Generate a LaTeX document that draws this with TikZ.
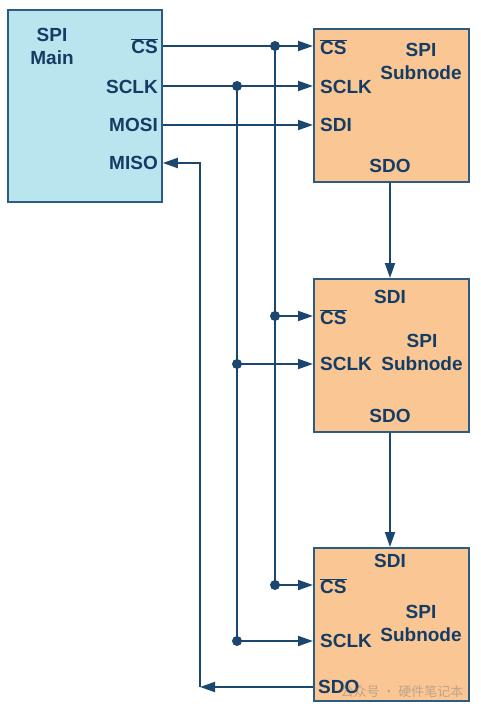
\documentclass[tikz,border=0pt]{standalone}
\usepackage{fontspec}
\setmainfont{Liberation Sans}
\newfontfamily\cjk{Noto Sans CJK SC}
\usetikzlibrary{arrows.meta,calc}
\definecolor{wire}{HTML}{1B4670}
\definecolor{txt}{HTML}{143C64}
\definecolor{edge}{HTML}{2D5C82}
\definecolor{mainfill}{HTML}{B9E6EE}
\definecolor{subfill}{HTML}{FAC794}
\tikzset{
  mainbox/.style={draw=edge,line width=1.8pt,fill=mainfill,minimum width=154pt,minimum height=192pt,inner sep=0pt,anchor=north west},
  subbox/.style={draw=edge,line width=1.8pt,fill=subfill,minimum width=155pt,minimum height=153pt,inner sep=0pt,anchor=north west},
  lbl/.style={text=txt,font=\fontsize{19}{23}\selectfont\bfseries,inner sep=0pt},
  wireline/.style={draw=wire,line width=1.9pt},
  arr/.style={wireline,-{Triangle[length=15pt,width=10pt]}},
  dot/.style={circle,fill=wire,inner sep=0pt,minimum size=10pt}
}
\newcommand{\csbar}{$\overline{\hbox{CS}}$}
\begin{document}
\begin{tikzpicture}[x=1pt,y=-1pt]
\useasboundingbox (0,0) rectangle (481,711);
% boxes
\node[mainbox] (main) at (7,9) {};
\node[subbox] (s1) at (313,28) {};
\node[subbox] (s2) at (313,278) {};
\node[subbox] (s3) at (313,547) {};
% main labels
\node[lbl,align=center] at (52,46) {SPI\\Main};
\node[lbl,anchor=east] (mcs) at (158,46) {\csbar};
\node[lbl,anchor=east] (msclk) at (158,87) {SCLK};
\node[lbl,anchor=east] (mmosi) at (158,125) {MOSI};
\node[lbl,anchor=east] (mmiso) at (158,163) {MISO};
% sub 1 labels
\node[lbl,anchor=west] at (320,47) {\csbar};
\node[lbl,anchor=west] at (320,87) {SCLK};
\node[lbl,anchor=west] at (320,125) {SDI};
\node[lbl,align=center] at (421,61) {SPI\\Subnode};
\node[lbl] at (390,166) {SDO};
% sub 2 labels
\node[lbl] at (390,297) {SDI};
\node[lbl,anchor=west] at (320,317) {\csbar};
\node[lbl,anchor=west] at (320,364) {SCLK};
\node[lbl,align=center] at (422,352) {SPI\\Subnode};
\node[lbl] at (390,416) {SDO};
% sub 3 labels
\node[lbl] at (390,561) {SDI};
\node[lbl,anchor=west] at (320,586) {\csbar};
\node[lbl,anchor=west] at (320,641) {SCLK};
\node[lbl,align=center] at (421,623) {SPI\\Subnode};
\node[lbl,anchor=west] at (318,687) {SDO};
% junctions
\coordinate (cs0) at (275,46);
\coordinate (cs1) at (275,316);
\coordinate (cs2) at (275,585);
\coordinate (ck0) at (237,86);
\coordinate (ck1) at (237,364);
\coordinate (ck2) at (237,641);
\coordinate (mi) at (200,687);
% wires main -> sub1
\draw[arr] (main.east |- cs0) -- (s1.west |- cs0);
\draw[arr] (main.east |- ck0) -- (s1.west |- ck0);
\draw[arr] (main.east |- 0,125) -- (s1.west |- 0,125);
% buses
\draw[wireline] (cs0) -- (cs2);
\draw[wireline] (ck0) -- (ck2);
\draw[arr] (cs1) -- (s2.west |- cs1);
\draw[arr] (ck1) -- (s2.west |- ck1);
\draw[arr] (cs2) -- (s3.west |- cs2);
\draw[arr] (ck2) -- (s3.west |- ck2);
\foreach \p in {cs0,cs1,cs2,ck0,ck1,ck2} \node[dot] at (\p) {};
% daisy chain
\draw[arr] (s1.south -| 390,0) -- (s2.north -| 390,0);
\draw[arr] (s2.south -| 390,0) -- (s3.north -| 390,0);
% MISO return
\draw[arr] (s3.west |- mi) -- (mi);
\draw[arr] (mi) -- (200,163) -- (main.east |- 0,163);
% watermark
\node[text=gray,opacity=0.5,font=\cjk\fontsize{13}{15}\selectfont,anchor=west] at (337,692) {公众号 · 硬件笔记本};
\end{tikzpicture}
\end{document}
